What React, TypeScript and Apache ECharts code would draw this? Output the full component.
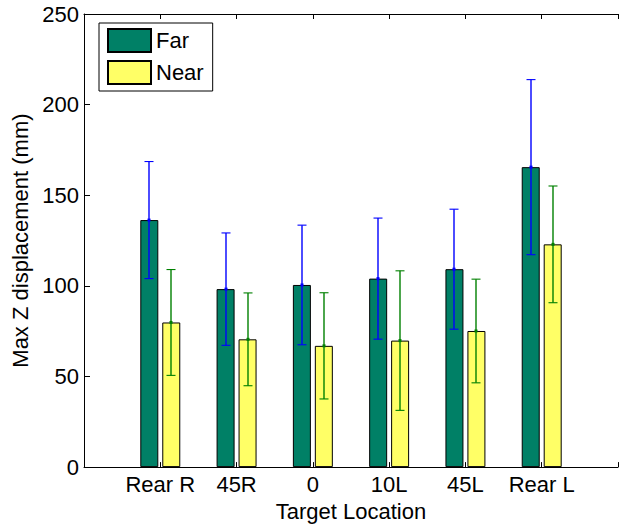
import React, { useEffect, useRef } from "react";
import * as echarts from "echarts";

// Target locations (padded with empty slots so the axis runs 0..7)
const locations = ["Rear R", "45R", "0", "10L", "45L", "Rear L"];

// Mean max Z displacement (mm) and error half-widths
const farMean = [136.3, 98.2, 100.5, 104.0, 109.2, 165.5];
const farErr = [32.3, 31.0, 33.0, 33.4, 33.1, 48.3];
const nearMean = [79.8, 70.5, 66.9, 69.8, 75.1, 122.9];
const nearErr = [29.2, 25.6, 29.3, 38.5, 28.6, 32.2];

const yTicks = { min: 0, max: 250, interval: 50 };

const FAR_COLOR = "rgb(0,128,102)";
const NEAR_COLOR = "rgb(255,255,102)";
const FAR_ERR_COLOR = "#0000ff";
const NEAR_ERR_COLOR = "#008000";
const FONT = "'Liberation Sans', Arial, Helvetica, sans-serif";

const BAR_W = 18;
const OFFSET = 11;

function errorSeries(name: string, means: number[], errs: number[], color: string, dx: number) {
  const data = means.map((m, i) => [i + 1, m - errs[i], m + errs[i], m]);
  return {
    type: "custom",
    name: name + " err",
    z: 5,
    encode: { x: 0, y: [1, 2, 3] },
    data,
    renderItem: (_params: any, api: any) => {
      const idx = api.value(0);
      const lo = api.coord([idx, api.value(1)]);
      const hi = api.coord([idx, api.value(2)]);
      const mid = api.coord([idx, api.value(3)]);
      const x = Math.round(lo[0] + dx);
      const cap = 4.5;
      const st = { stroke: color, lineWidth: 1.1 };
      return {
        type: "group",
        children: [
          { type: "line", shape: { x1: x, y1: hi[1], x2: x, y2: lo[1] }, style: { stroke: color, lineWidth: 1.4 } },
          { type: "line", shape: { x1: x - cap, y1: hi[1], x2: x + cap, y2: hi[1] }, style: st },
          { type: "line", shape: { x1: x - cap, y1: lo[1], x2: x + cap, y2: lo[1] }, style: st },
          { type: "rect", shape: { x: x - 1.5, y: mid[1] - 1.5, width: 3, height: 3 }, style: { fill: color } },
        ],
      };
    },
  };
}

export default function App() {
  const ref = useRef<HTMLDivElement>(null);

  useEffect(() => {
    if (!ref.current) return;
    const chart = echarts.init(ref.current, undefined, { renderer: "svg" });
    const cats = ["", ...locations, ""];
    const axisCommon = {
      type: "category",
      data: cats,
      boundaryGap: false,
      axisLine: { show: true, lineStyle: { color: "#000", width: 1 } },
      axisTick: { show: true, inside: true, length: 5, lineStyle: { color: "#000" } },
      splitLine: { show: false },
    };
    chart.setOption({
      animation: false,
      textStyle: { fontFamily: FONT },
      grid: { left: 84, top: 14, width: 542, height: 455, containLabel: false },
      legend: {
        orient: "vertical",
        left: 99,
        top: 23,
        data: ["Far", "Near"],
        icon: "rect",
        itemWidth: 43,
        itemHeight: 23,
        itemGap: 7,
        padding: [5, 9, 6, 8],
        borderColor: "#000",
        borderWidth: 1,
        backgroundColor: "#fff",
        textStyle: { fontSize: 22, color: "#000", fontFamily: FONT },
      },
      xAxis: [
        {
          ...axisCommon,
          position: "bottom",
          name: "Target Location",
          nameLocation: "middle",
          nameGap: 30,
          nameTextStyle: { fontSize: 22, color: "#000", fontFamily: FONT },
          axisLabel: { fontSize: 22, color: "#000", margin: 6, interval: 0, fontFamily: FONT },
        },
        {
          ...axisCommon,
          position: "top",
          axisLabel: { show: false },
        },
      ],
      yAxis: {
        type: "value",
        min: yTicks.min,
        max: yTicks.max,
        interval: yTicks.interval,
        name: "Max Z displacement (mm)",
        nameLocation: "middle",
        nameGap: 50,
        nameTextStyle: { fontSize: 22, color: "#000", fontFamily: FONT },
        axisLine: { show: true, lineStyle: { color: "#000", width: 1 } },
        axisTick: { show: true, inside: true, length: 6, lineStyle: { color: "#000" } },
        splitLine: { show: false },
        axisLabel: { fontSize: 22, color: "#000", margin: 5, fontFamily: FONT },
      },
      series: [
        {
          type: "bar",
          name: "Far",
          data: [null, ...farMean, null],
          barWidth: BAR_W,
          barGap: "22%",
          itemStyle: { color: FAR_COLOR, borderColor: "#000", borderWidth: 1 },
        },
        {
          type: "bar",
          name: "Near",
          data: [null, ...nearMean, null],
          barWidth: BAR_W,
          barGap: "22%",
          itemStyle: { color: NEAR_COLOR, borderColor: "#000", borderWidth: 1 },
        },
        errorSeries("Far", farMean, farErr, FAR_ERR_COLOR, -OFFSET),
        errorSeries("Near", nearMean, nearErr, NEAR_ERR_COLOR, OFFSET),
      ],
    });
    return () => chart.dispose();
  }, []);

  return (
    <div
      ref={ref}
      style={{ position: "absolute", left: 0, top: 0, width: 621, height: 527, background: "#fff" }}
    />
  );
}
